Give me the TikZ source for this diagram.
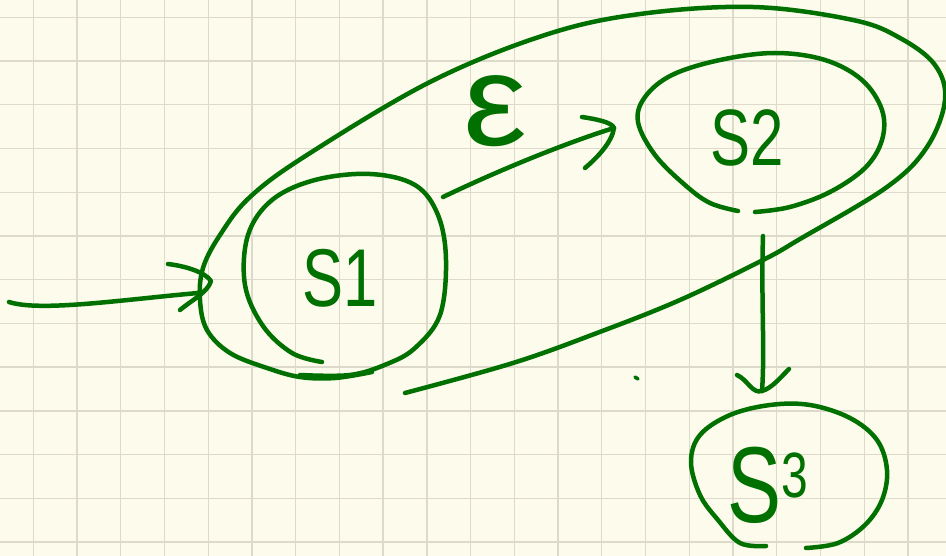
\documentclass[tikz,border=0pt]{standalone}
\usepackage{fontspec}
\newfontfamily\hand[FakeStretch=0.75]{Liberation Sans}
\newfontfamily\handw[FakeStretch=1.1]{Liberation Sans}
\definecolor{paper}{RGB}{253,251,236}
\definecolor{gridc}{RGB}{222,218,203}
\definecolor{inkc}{RGB}{0,112,0}
\begin{document}
\begin{tikzpicture}[x=1pt,y=-1pt,
  ink/.style={draw=inkc, line width=4.5pt, line cap=round, line join=round},
  gridline/.style={draw=gridc, line width=1.3pt},
  lbl/.style={text=inkc, inner sep=0pt, anchor=base}]
\useasboundingbox (0,0) rectangle (946,556);
\fill[paper] (0,0) rectangle (946,556);
\foreach \i in {0,...,20} \draw[gridline] ({33.3+43.73*\i},0) -- ({33.3+43.73*\i},556);
\foreach \j in {0,...,12} \draw[gridline] (0,{17.3+43.73*\j}) -- (946,{17.3+43.73*\j});

% big enclosing loop
\draw[ink] plot[smooth, tension=0.6] coordinates {(405,393) (513,363) (597,333) (680,300) (763,260) (800,239) (887,187) (927,147) (945,100) (935,65) (900,38) (853,20) (753,7) (640,14) (545,35) (430,82) (307,155) (250,197) (220,235) (203,268) (200,300) (207,330) (230,353) (267,368) (300,377) (335,378) (372,372)};

% state circles
\draw[ink] plot[smooth, tension=0.6] coordinates {(322,362) (292,353) (263,326) (245,285) (248,235) (272,200) (315,180) (370,174) (415,185) (438,215) (446,260) (440,315) (415,348) (387,364) (350,375) (300,375)};
\draw[ink] plot[smooth, tension=0.6] coordinates {(738,211) (710,203) (685,185) (655,155) (638,122) (645,97) (672,75) (720,60) (775,53) (825,60) (862,80) (882,110) (882,140) (865,168) (830,192) (790,207) (755,212)};
\draw[ink] plot[smooth, tension=0.6] coordinates {(766,546) (740,543) (718,520) (700,495) (691,462) (700,435) (730,415) (770,405) (810,405) (850,418) (877,440) (887,470) (882,500) (865,525) (838,543) (806,548)};

% labels
\node[lbl] (s1) at (340,307) {\hand\fontsize{82}{82}\selectfont S1};
\node[lbl] (s2) at (747,166) {\hand\fontsize{80}{80}\selectfont S2};
\node[lbl] (s3) at (768,522) {\hand\fontsize{108}{108}\selectfont S\raisebox{25pt}{\fontsize{64}{64}\selectfont 3}};
\node[lbl] (eps) at (495,146) {\handw\fontsize{130}{130}\selectfont ε};

% named ends of connectors
\coordinate (startpt) at (9,302);
\coordinate (inend) at (198,293);
\coordinate (ina) at (168,264);
\coordinate (intip) at (211,281);
\coordinate (inb) at (180,310);
\coordinate (s1out) at (443,197);
\coordinate (s2tip) at (614,128);
\coordinate (ea) at (582,117);
\coordinate (eb) at (585,168);
\coordinate (s2out) at (763,236);
\coordinate (s3tip) at (762,391);
\coordinate (da) at (737,375);
\coordinate (db) at (789,369);

% start arrow
\draw[ink] (startpt) .. controls (40,312) and (120,300) .. (inend);
\draw[ink] (ina) .. controls (185,266) and (205,272) .. (intip) .. controls (208,292) and (192,300) .. (inb);

% epsilon transition
\draw[ink] (s1out) .. controls (510,165) and (575,140) .. (s2tip);
\draw[ink] (ea) .. controls (595,119) and (612,122) .. (s2tip) .. controls (612,142) and (598,157) .. (eb);

% S2 to S3
\draw[ink] (s2out) .. controls (761,300) and (765,350) .. (s3tip);
\draw[ink] (da) .. controls (748,380) and (752,394) .. (s3tip) .. controls (772,388) and (780,378) .. (db);

% stray dot
\draw[ink, line width=3.5pt] (635,377) -- (638,379);
\end{tikzpicture}
\end{document}
